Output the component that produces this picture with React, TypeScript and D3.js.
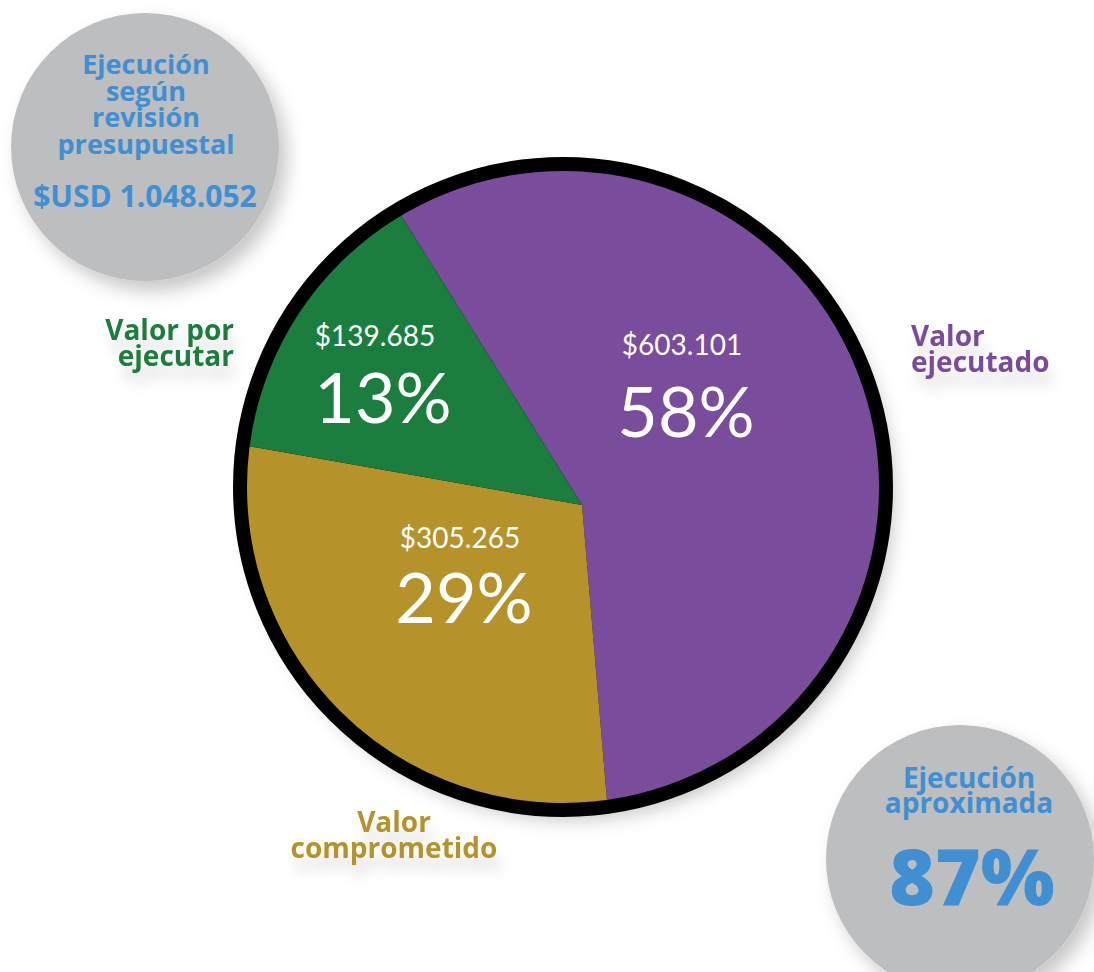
import React from 'react';
import * as d3 from 'd3';

// slices, clockwise from the top
const sliceNames = ['Valor ejecutado', 'Valor comprometido', 'Valor por ejecutar'];
const sliceValues = [603101, 305265, 139685];
const sliceAmounts = ['$603.101', '$305.265', '$139.685'];
const slicePercents = ['58%', '29%', '13%'];
const sliceColors = ['#7a4c9c', '#b5922a', '#1b7e3e'];

const budgetLines = ['Ejecución', 'según', 'revisión', 'presupuestal'];
const budgetTotal = '$USD 1.048.052';
const execLines = ['Ejecución', 'aproximada'];
const execPercent = '87%';

const W = 1094;
const H = 972;

// outline circle and the point where the wedges meet (slightly off-centre in the original)
const cx = 563, cy = 487, R = 323;
const ax = 582, ay = 505;
const startDeg = -32;

// where the texts go, per slice
const innerLabelPos = [
    { x: 682, y1: 355, y2: 437 },
    { x: 460, y1: 548, y2: 623 },
    { x: 375, y1: 346, y2: 423 },
];
const outerLabelPos = [
    { x: 911, y: 346, anchor: 'start' },
    { x: 394, y: 832, anchor: 'middle' },
    { x: 234, y: 340, anchor: 'end' },
];

const bold = "'Open Sans', 'DejaVu Sans', sans-serif";
const light = "Lato, 'Open Sans', sans-serif";
const blue = '#3f8fd2';
const grey = '#bcbec0';

const App = () => {
    const start = (startDeg * Math.PI) / 180;
    const pie = d3.pie<number>().sort(null).startAngle(start).endAngle(start + 2 * Math.PI);
    const arcs = pie(sliceValues);
    const arc = d3.arc<d3.PieArcDatum<number>>().innerRadius(0).outerRadius(460);

    return (
        <div style={{ position: 'absolute', left: 0, top: 0 }}>
            <svg width={W} height={H} style={{ display: 'block', background: '#fff' }}>
                <defs>
                    <filter id="shadow" x="-20%" y="-20%" width="150%" height="150%">
                        <feDropShadow dx="8" dy="10" stdDeviation="9" floodColor="#000" floodOpacity="0.22" />
                    </filter>
                    <filter id="textShadow" x="-20%" y="-50%" width="140%" height="250%">
                        <feDropShadow dx="4" dy="14" stdDeviation="6" floodColor="#000" floodOpacity="0.12" />
                    </filter>
                    <clipPath id="pieClip">
                        <circle cx={cx} cy={cy} r={R} />
                    </clipPath>
                </defs>

                {/* grey bubbles */}
                <circle cx={145} cy={147} r={134} fill={grey} filter="url(#shadow)" />
                <circle cx={960} cy={859} r={134} fill={grey} filter="url(#shadow)" />

                <g fontFamily={bold} fontWeight={700} fill={blue} textAnchor="middle">
                    {budgetLines.map((t, i) => (
                        <text key={t} x={146} y={74 + i * 26.5} fontSize={27}>{t}</text>
                    ))}
                    <text x={145} y={207} fontSize={30}>{budgetTotal}</text>
                    {execLines.map((t, i) => (
                        <text key={t} x={969} y={788 + i * 25} fontSize={28}>{t}</text>
                    ))}
                    <text x={972} y={905} fontSize={78} fontWeight={800}>{execPercent}</text>
                </g>

                {/* pie */}
                <circle cx={cx} cy={cy} r={R} fill="#000" filter="url(#shadow)" />
                <g clipPath="url(#pieClip)">
                    {arcs.map((a, i) => (
                        <path key={sliceNames[i]} d={arc(a) || ''} transform={`translate(${ax},${ay})`} fill={sliceColors[i]} />
                    ))}
                </g>
                <circle cx={cx} cy={cy} r={R} fill="none" stroke="#000" strokeWidth={14} />

                <g fontFamily={light} fill="#fff" textAnchor="middle">
                    {arcs.map((a, i) => (
                        <g key={i}>
                            <text x={innerLabelPos[i].x} y={innerLabelPos[i].y1} fontSize={28}>{sliceAmounts[i]}</text>
                            <text x={innerLabelPos[i].x + (i === 2 ? 8 : 4)} y={innerLabelPos[i].y2} fontSize={70}>{slicePercents[i]}</text>
                        </g>
                    ))}
                </g>

                <g fontFamily={bold} fontWeight={700} filter="url(#textShadow)">
                    {sliceNames.map((name, i) => {
                        const words = name.split(' ');
                        const lines = i === 2 ? ['Valor por', 'ejecutar'] : [words[0], words.slice(1).join(' ')];
                        const p = outerLabelPos[i];
                        return (
                            <text key={name} fill={sliceColors[i]} textAnchor={p.anchor} fontSize={28}>
                                {lines.map((l, j) => (
                                    <tspan key={j} x={p.x} y={p.y + j * 26}>{l}</tspan>
                                ))}
                            </text>
                        );
                    })}
                </g>
            </svg>
        </div>
    );
};

export default App;
